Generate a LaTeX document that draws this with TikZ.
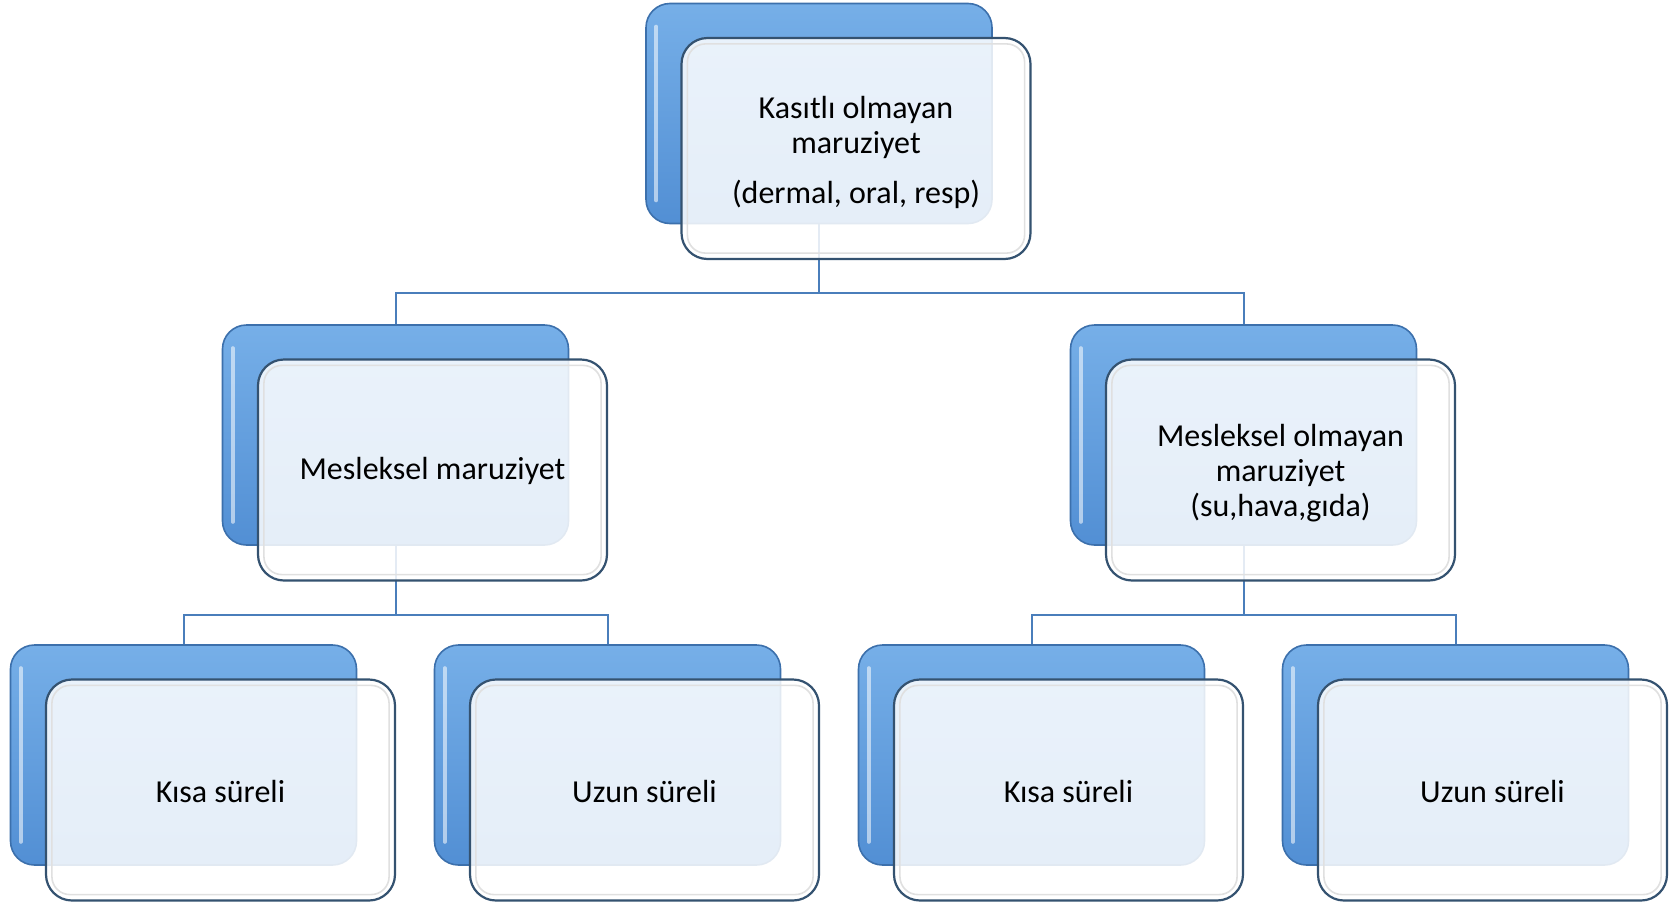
\documentclass[tikz,border=0pt]{standalone}
\usepackage{fontspec}
\setmainfont{Carlito}
\usetikzlibrary{calc,backgrounds}
\definecolor{connc}{RGB}{74,126,187}
\definecolor{bluetop}{RGB}{118,175,232}
\definecolor{bluebot}{RGB}{82,143,212}
\definecolor{blueedge}{RGB}{60,112,172}
\definecolor{frontedge}{RGB}{52,82,112}
\tikzset{
 connline/.style={draw=connc, line width=1pt},
 backbox/.style={rectangle, rounded corners=12pt, minimum width=173pt, minimum height=110pt,
   top color=bluetop, bottom color=bluebot, draw=blueedge, line width=0.8pt, inner sep=0pt},
 frontbox/.style={rectangle, rounded corners=13pt, minimum width=174.5pt, minimum height=110.5pt,
   fill=white, fill opacity=0.85, draw=frontedge, draw opacity=1, line width=1.1pt, inner sep=0pt},
 boxtext/.style={align=center, font=\fontsize{16pt}{17.5pt}\selectfont, inner sep=0pt},
 bevelline/.style={draw=black!12, line width=0.8pt, rounded corners=9pt},
 highlight/.style={draw=white, draw opacity=0.55, line width=2pt, line cap=round},
}
\newcommand\mkpair[5]{%
 \node[backbox] (b#1) at (#2,#3) {};
 \draw[highlight] ($(b#1.north west)+(11,24)$) -- ($(b#1.south west)+(11,-24)$);
 \node[frontbox] (w#1) at ($(b#1)+(37,35)$) {};
 \draw[bevelline] ($(w#1.north west)+(7,7)$) rectangle ($(w#1.south east)+(-7,-7)$);
 \node[boxtext] (t#1) at ($(w#1)+(0,#5)$) {#4};
}
\begin{document}
\begin{tikzpicture}[x=0.5pt,y=-0.5pt]
\useasboundingbox (0,0) rectangle (1677,905);
\mkpair{0}{819}{113.5}{Kasıtlı olmayan\\[0pt]maruziyet\\[7.5pt](dermal, oral, resp)}{4}
\mkpair{1}{395.5}{435}{Mesleksel maruziyet}{1}
\mkpair{2}{1243.5}{435}{Mesleksel olmayan\\maruziyet\\(su,hava,gıda)}{3}
\mkpair{3}{183.5}{755}{Kısa süreli}{1}
\mkpair{4}{607.5}{755}{Uzun süreli}{1}
\mkpair{5}{1031.5}{755}{Kısa süreli}{1}
\mkpair{6}{1455.5}{755}{Uzun süreli}{1}
\begin{pgfonlayer}{background}
\fill[white] (0,0) rectangle (1677,905);
\coordinate (j0) at ($(b0.south)+(0,69)$);
\draw[connline] (b0.south) -- (j0) -| (b1.north);
\draw[connline] (j0) -| (b2.north);
\coordinate (j1) at ($(b1.south)+(0,69)$);
\draw[connline] (b1.south) -- (j1) -| (b3.north);
\draw[connline] (j1) -| (b4.north);
\coordinate (j2) at ($(b2.south)+(0,69)$);
\draw[connline] (b2.south) -- (j2) -| (b5.north);
\draw[connline] (j2) -| (b6.north);
\end{pgfonlayer}
\end{tikzpicture}
\end{document}
